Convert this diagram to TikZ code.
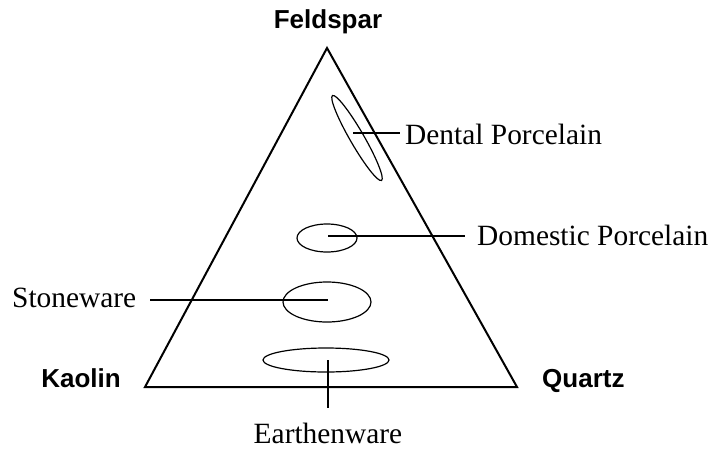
\documentclass[tikz,border=0pt]{standalone}
\usepackage{fontspec}
\setmainfont{Liberation Serif}
\newfontfamily\labsans{Liberation Sans}
\usetikzlibrary{shapes.geometric}
\begin{document}
\begin{tikzpicture}[x=1pt,y=-1pt,
  tri/.style={line width=2pt, line join=miter},
  ell/.style={draw, ellipse, line width=1.2pt, inner sep=0pt},
  lead/.style={line width=1.2pt},
  corner/.style={font=\labsans\bfseries\fontsize{26}{30}\selectfont, inner sep=0pt},
  field/.style={font=\fontsize{29.4}{34}\selectfont, inner sep=0pt}]
\useasboundingbox (0,0) rectangle (714,450);
% triangle
\coordinate (F) at (327,48);
\coordinate (K) at (145,387);
\coordinate (Q) at (517,387);
\draw[tri] (F) -- (K) -- (Q) -- cycle;
% corner labels
\node[corner, anchor=base] (feld) at (328,28) {Feldspar};
\node[corner, anchor=base] (kao) at (81,387) {Kaolin};
\node[corner, anchor=base west] (qua) at (542,387) {Quartz};
% regions
\node[ell, minimum width=98pt, minimum height=14pt, rotate=-60] (dent) at (357,138) {};
\node[ell, minimum width=60pt, minimum height=28pt] (dom) at (327,238) {};
\node[ell, minimum width=88pt, minimum height=40pt] (stone) at (327,302) {};
\node[ell, minimum width=126pt, minimum height=24pt] (earth) at (326,360) {};
% field labels
\node[field, anchor=base west] (dentT) at (405,144) {Dental Porcelain};
\node[field, anchor=base west] (domT) at (477,245) {Domestic Porcelain};
\node[field, anchor=base west] (stoneT) at (12,307) {Stoneware};
\node[field, anchor=base] (earthT) at (328,443) {Earthenware};
% leader ends inside regions
\coordinate (dentL) at (353,133);
\coordinate (domL) at (328,236);
\coordinate (stoneL) at (328,300);
\coordinate (earthL) at (328,360);
\draw[lead] (dentL) -- ([xshift=-5pt]dentT.west |- dentL);
\draw[lead] (domL) -- ([xshift=-12pt]domT.west |- domL);
\draw[lead] ([xshift=14pt]stoneT.east |- stoneL) -- (stoneL);
\draw[lead] (earthL) -- ([yshift=14pt]earthT.north);
\end{tikzpicture}
\end{document}
